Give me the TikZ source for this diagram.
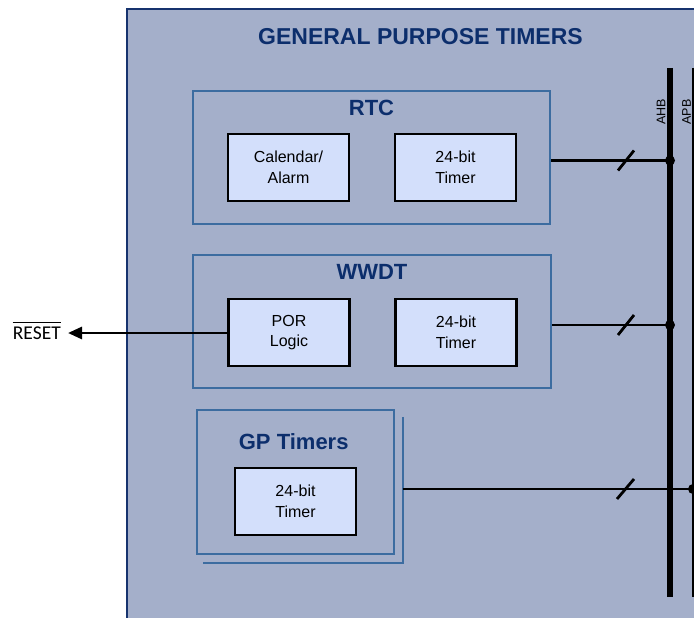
\documentclass[tikz,border=0pt]{standalone}
\usepackage{fontspec}
\setmainfont{Liberation Sans}
\newfontfamily\calib{Carlito}
\usetikzlibrary{arrows.meta,calc}
\definecolor{panelfill}{HTML}{A4AFCA}
\definecolor{panelline}{HTML}{16336E}
\definecolor{grpline}{HTML}{3C6CA0}
\definecolor{titlecol}{HTML}{0C2E6C}
\definecolor{boxfill}{HTML}{D3DFFB}
\tikzset{
  panel/.style={draw=panelline,fill=panelfill,line width=2.2pt},
  grp/.style={draw=grpline,line width=2.4pt,inner sep=0pt},
  grptitle/.style={text=titlecol,font=\fontsize{22}{26}\selectfont\bfseries,inner sep=0pt},
  blk/.style={draw=black,fill=boxfill,line width=2.7pt,minimum width=121pt,minimum height=67pt,
    inner sep=0pt,align=center,font=\fontsize{16}{20.5}\selectfont},
  conn/.style={line width=2.8pt,black},
  slashmark/.style={line width=2.8pt,black},
  buslabel/.style={font=\fontsize{12.5}{14}\selectfont,rotate=90,inner sep=0pt},
}
\begin{document}
\begin{tikzpicture}[x=1pt,y=-1pt]
\clip (0,0) rectangle (694,618);
\fill[white] (0,0) rectangle (694,618);
% main panel
\draw[panel] (127,9) rectangle (720,640);
\node[text=titlecol,font=\fontsize{23}{27}\selectfont\bfseries,inner sep=0pt] (title) at (420.5,37) {GENERAL PURPOSE TIMERS};

% bus
\coordinate (ahbtop) at (670,68);
\coordinate (ahbbot) at (670,597);
\coordinate (apbtop) at (693,68);
\coordinate (apbbot) at (693,597);
\draw[line width=6.3pt] (ahbtop) -- (ahbbot);
\draw[line width=2.2pt] (apbtop) -- (apbbot);
\node[buslabel] (ahb) at (661,112) {AHB};
\node[buslabel] (apb) at (686.5,112) {APB};

% RTC
\node[grp,minimum width=357pt,minimum height=133pt] (rtc) at (371.5,157.5) {};
\node[grptitle] (rtct) at (371.5,107.5) {RTC};
\node[blk] (cal) at (288.5,167.5) {Calendar/\\Alarm};
\node[blk] (rtctim) at (455.5,167.5) {24-bit\\Timer};

% WWDT
\node[grp,minimum width=358pt,minimum height=133pt] (wwdt) at (372,321.5) {};
\node[grptitle] (wwdtt) at (372,272) {WWDT};
\node[blk] (por) at (289,332.5) {POR\\Logic};
\node[blk] (wwdttim) at (456,332.5) {24-bit\\Timer};

% GP timers
\node[grp,minimum width=197pt,minimum height=144pt] (gp) at (295.5,482) {};
\draw[draw=grpline,line width=2.4pt] ([shift={(7.5,8)}]gp.north east) |- ([shift={(7.5,8)}]gp.south west);
\node[grptitle] (gpt) at (293.7,441.7) {GP Timers};
\node[blk] (gptim) at (295.5,501.5) {24-bit\\Timer};

% connectors to bus
\coordinate (r1) at ($(rtc.east)+(0,3)$);
\draw[conn] (r1) -- (r1 -| ahbtop) coordinate (d1);
\fill (d1) circle (5pt);
\draw[slashmark] ($(r1 -| ahbtop)+(-52,10)$) -- ($(r1 -| ahbtop)+(-36,-10)$);

\coordinate (w1) at ($(wwdt.east)+(0,3.5)$);
\draw[conn] (w1) -- (w1 -| ahbtop) coordinate (d2);
\fill (d2) circle (5pt);
\draw[slashmark] ($(w1 -| ahbtop)+(-52,10)$) -- ($(w1 -| ahbtop)+(-36,-10)$);

\coordinate (g1) at ([shift={(7.5,7)}]gp.east);
\draw[conn] (g1) -- (g1 -| apbtop) coordinate (d3);
\fill (d3) circle (5pt);
\draw[slashmark] ($(g1 -| ahbtop)+(-53,10)$) -- ($(g1 -| ahbtop)+(-36,-10)$);

% RESET
\node[font=\calib\fontsize{19.5}{22}\selectfont,inner sep=0pt,anchor=east] (reset) at (61,333) {RESET};
\draw[line width=1.3pt] ([yshift=4pt]reset.north west) -- ([yshift=4pt]reset.north east);
\draw[conn,-{Triangle[length=14pt,width=12pt]},shorten >=7pt] (por.west |- reset.east) -- (reset.east);
\end{tikzpicture}
\end{document}
